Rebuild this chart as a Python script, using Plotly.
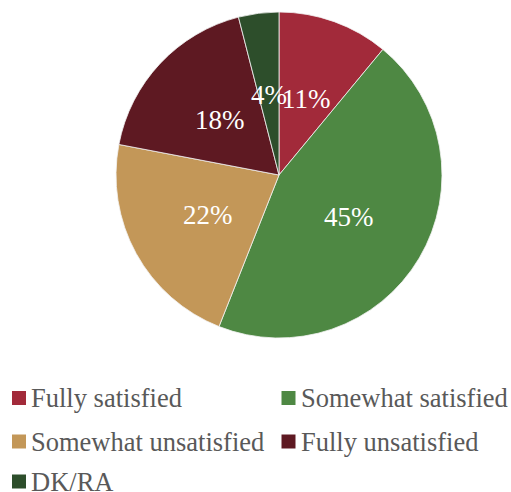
import math
import plotly.graph_objects as go

# Survey answers and their shares (%)
labels = ["Fully satisfied", "Somewhat satisfied", "Somewhat unsatisfied",
          "Fully unsatisfied", "DK/RA"]
values = [11, 45, 22, 18, 4]
colors = ["#A22A3A", "#4E8843", "#C39758", "#5E1922", "#2D4E2B"]

W, H = 511, 492
FONT = "Liberation Serif"

# pie geometry in pixels
cx, cy, R = 279, 175, 163


def fx(px):
    return px / W


def fy(py):
    return 1 - py / H


fig = go.Figure(go.Pie(
    labels=labels,
    values=values,
    marker=dict(colors=colors, line=dict(color="#F2F2F2", width=0.8)),
    sort=False,
    direction="clockwise",
    rotation=0,
    textinfo="none",
    hoverinfo="label+percent",
    showlegend=False,
    domain=dict(x=[fx(cx - R), fx(cx + R)], y=[fy(cy + R), fy(cy - R)]),
))

annotations = []
shapes = []

# percentage labels placed halfway along each slice's bisector
total = sum(values)
acc = 0
for v in values:
    mid = (acc + v / 2) / total * 2 * math.pi
    acc += v
    lx = cx + 0.5 * R * math.sin(mid)
    ly = cy - 0.5 * R * math.cos(mid) + 1
    annotations.append(dict(
        x=fx(lx), y=fy(ly), xref="paper", yref="paper",
        text=f"{round(v / total * 100)}%", showarrow=False,
        xanchor="center", yanchor="middle",
        font=dict(family=FONT, size=27, color="white"),
    ))

# legend laid out in two columns below the pie
col_x = [12, 281.5]
row_y = [398, 441.5, 481.5]
sw = 14
for i, (lab, col) in enumerate(zip(labels, colors)):
    x0 = col_x[i % 2]
    yc = row_y[i // 2]
    shapes.append(dict(
        type="rect", xref="paper", yref="paper",
        x0=fx(x0), x1=fx(x0 + sw), y0=fy(yc + sw / 2), y1=fy(yc - sw / 2),
        fillcolor=col, line=dict(width=0),
    ))
    annotations.append(dict(
        x=fx(x0 + sw + 4), y=fy(yc), xref="paper", yref="paper",
        text=lab, showarrow=False, xanchor="left", yanchor="middle",
        borderpad=0,
        font=dict(family=FONT, size=26.5, color="#595959"),
    ))

fig.update_layout(
    width=W, height=H,
    margin=dict(l=0, r=0, t=0, b=0),
    paper_bgcolor="white",
    plot_bgcolor="white",
    font=dict(family=FONT),
    annotations=annotations,
    shapes=shapes,
)

fig.write_html("out.html")
